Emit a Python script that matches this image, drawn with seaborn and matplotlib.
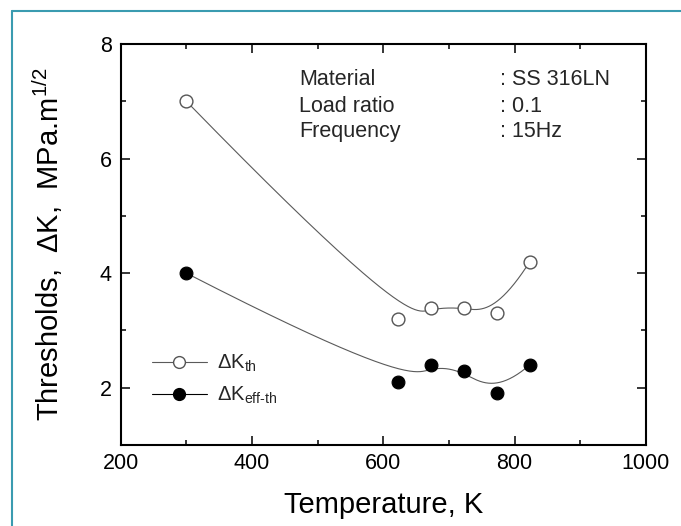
import numpy as np
import pandas as pd
import matplotlib
matplotlib.use("Agg")
import matplotlib.pyplot as plt
import seaborn as sns
from matplotlib.ticker import MultipleLocator
from matplotlib.lines import Line2D

# ---- data ----
temperature = [300, 623, 673, 723, 773, 823]
dk_th = [7.0, 3.2, 3.4, 3.4, 3.3, 4.2]
dk_eff_th = [4.0, 2.1, 2.4, 2.3, 1.9, 2.4]
x_ticks = [200, 400, 600, 800, 1000]
y_ticks = [2, 4, 6, 8]
info_keys = ["Material", "Load ratio", "Frequency"]
info_vals = [": SS 316LN", ": 0.1", ": 15Hz"]
legend_labels = [r"$\Delta$K$_{\rm th}$", r"$\Delta$K$_{\rm eff\text{-}th}$"]


def bspline(cx, cy, n=400, k=3):
    """Clamped cubic B-spline using the data points as control points (Origin 'B-spline' connection)."""
    cx = np.asarray(cx, float)
    cy = np.asarray(cy, float)
    m = len(cx)
    knots = np.concatenate([[0] * (k + 1), np.arange(1, m - k), [m - k] * (k + 1)]).astype(float)
    t = np.linspace(0, m - k, n)
    t[-1] -= 1e-9
    B = np.zeros((n, len(knots) - 1))
    for i in range(len(knots) - 1):
        B[:, i] = (knots[i] <= t) & (t < knots[i + 1])
    for p in range(1, k + 1):
        Bn = np.zeros((n, len(knots) - 1 - p))
        for i in range(len(knots) - 1 - p):
            d1 = knots[i + p] - knots[i]
            d2 = knots[i + p + 1] - knots[i + 1]
            term = np.zeros(n)
            if d1 > 0:
                term += (t - knots[i]) / d1 * B[:, i]
            if d2 > 0:
                term += (knots[i + p + 1] - t) / d2 * B[:, i + 1]
            Bn[:, i] = term
        B = Bn
    return B @ cx, B @ cy


sns.set_theme(style="ticks")
plt.rcParams["font.family"] = ["Liberation Sans", "DejaVu Sans"]
plt.rcParams["mathtext.fontset"] = "custom"
plt.rcParams["mathtext.rm"] = "Liberation Sans"
plt.rcParams["mathtext.it"] = "Liberation Sans:italic"
plt.rcParams["mathtext.bf"] = "Liberation Sans:bold"

fig = plt.figure(figsize=(6.81, 5.26), dpi=100)
fig.patch.set_facecolor("white")
ax = fig.add_axes([120.7 / 681, 1 - 445 / 526, (646 - 120.7) / 681, (445 - 44) / 526])

df = pd.DataFrame({"T": temperature, "th": dk_th, "eff": dk_eff_th})

# smooth curves
sx, sy = bspline(temperature, dk_th)
ax.plot(sx, sy, color="#5a5a5a", lw=0.8, zorder=2)
sx2, sy2 = bspline(temperature, dk_eff_th)
ax.plot(sx2, sy2, color="#5a5a5a", lw=0.8, zorder=2)

# markers
sns.scatterplot(data=df, x="T", y="th", ax=ax, marker="o", s=85,
                facecolor="white", edgecolor="#555555", linewidth=1.0, zorder=3)
sns.scatterplot(data=df, x="T", y="eff", ax=ax, marker="o", s=85,
                color="black", edgecolor="black", linewidth=0.8, zorder=3)

ax.set_xlim(200, 1000)
ax.set_ylim(1, 8)
ax.set_xticks(x_ticks)
ax.set_yticks(y_ticks)
ax.xaxis.set_minor_locator(MultipleLocator(100))
ax.yaxis.set_minor_locator(MultipleLocator(1))
ax.tick_params(which="both", direction="in", top=True, right=True, width=1.1, color="black")
ax.tick_params(which="major", length=6.5, labelsize=15.5, labelcolor="black")
ax.tick_params(axis="x", which="major", pad=6)
ax.tick_params(axis="y", which="major", pad=6.5)
ax.tick_params(which="minor", length=3.5)
for sp in ax.spines.values():
    sp.set_linewidth(1.5)
    sp.set_color("black")

ax.set_xlabel("Temperature, K", fontsize=21, labelpad=12, color="black")
ax.set_ylabel(r"Thresholds,  $\Delta$K,  MPa.m$^{1/2}$", fontsize=21, labelpad=25, color="black")

# info text
ys = [0.898, 0.830, 0.768]
for key, val, yy in zip(info_keys, info_vals, ys):
    ax.text(0.339, yy, key, transform=ax.transAxes, fontsize=15.5, va="baseline", ha="left")
    ax.text(0.7215, yy, val, transform=ax.transAxes, fontsize=15.5, va="baseline", ha="left")

# legend
handles = [
    Line2D([], [], color="#5a5a5a", lw=0.8, marker="o", markersize=8.5,
           markerfacecolor="white", markeredgecolor="#555555", markeredgewidth=1.0),
    Line2D([], [], color="black", lw=0.8, marker="o", markersize=8.5,
           markerfacecolor="black", markeredgecolor="black"),
]
ax.legend(handles, legend_labels, loc="center left", bbox_to_anchor=(0.06, 0.163),
          frameon=False, fontsize=14.5, handlelength=2.7, handletextpad=0.5,
          labelspacing=0.55, borderpad=0, borderaxespad=0)

# teal page frame
frame_c = "#3a9bb0"
fig.add_artist(Line2D([11.5 / 681, 11.5 / 681], [0, 1 - 10.5 / 526], transform=fig.transFigure,
                      color=frame_c, lw=1.5))
fig.add_artist(Line2D([11.5 / 681, 1], [1 - 10.5 / 526, 1 - 10.5 / 526], transform=fig.transFigure,
                      color=frame_c, lw=1.5))

fig.savefig("out.png", dpi=100)
